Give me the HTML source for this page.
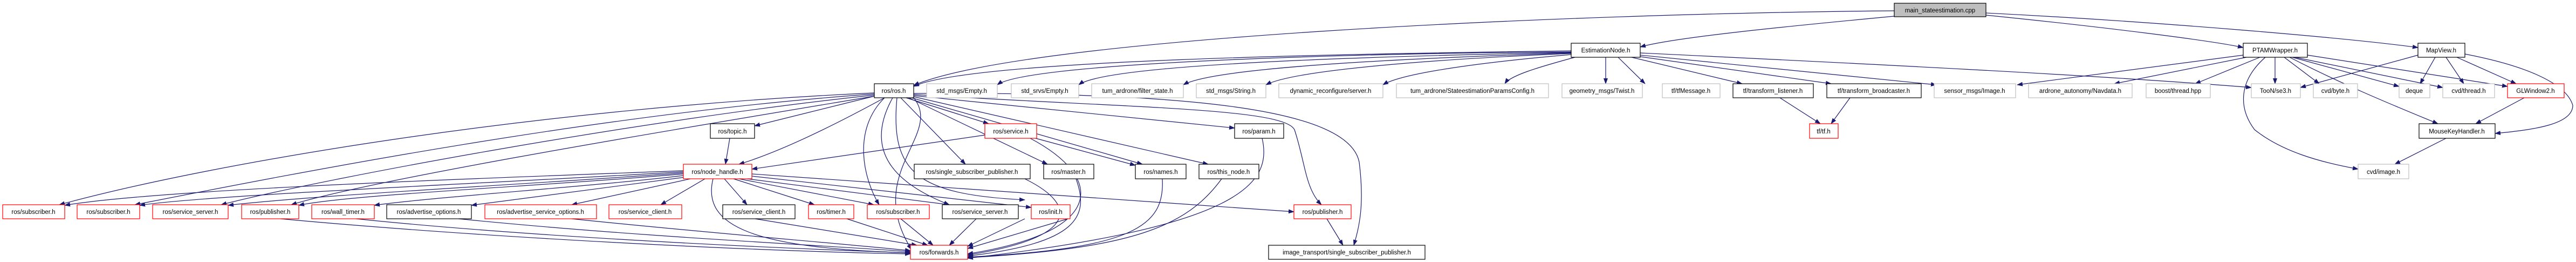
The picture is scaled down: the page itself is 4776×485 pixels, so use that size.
<!DOCTYPE html>
<html><head><meta charset="utf-8"><style>
html,body{margin:0;padding:0;background:#fff;width:4776px;height:485px;overflow:hidden}
svg text{font-family:"Liberation Sans",sans-serif;font-size:11.5px;fill:#000;text-anchor:middle}
.e{fill:none;stroke:#191970;stroke-width:1.2}
.k{fill:#fff;stroke:#000;stroke-width:1.2}
.g{fill:#fff;stroke:#bfbfbf;stroke-width:1.2}
.r{fill:#fff;stroke:#ff0000;stroke-width:1.2}
</style></head><body>
<svg width="4776" height="485" viewBox="0 0 4776 485" xmlns="http://www.w3.org/2000/svg">
<defs><marker id="a" markerUnits="userSpaceOnUse" markerWidth="11" markerHeight="8" refX="10" refY="4" orient="auto"><path d="M0,0 L11,4 L0,8 z" fill="#191970"/></marker></defs>
<g class="e" marker-end="url(#a)">
<!-- main -->
<path d="M3512,20 C2900,25 1900,70 1694,158"/>
<path d="M3512,30 C3300,50 3100,70 3041,87"/>
<path d="M3682,28 C3900,50 4100,75 4159,88"/>
<path d="M3682,24 C4000,40 4350,70 4483,88"/>
<!-- EstimationNode -->
<path d="M2913,94 C2500,100 1800,110 1694,160"/>
<path d="M2913,96 C2400,100 1900,120 1849,157"/>
<path d="M2913,97 C2500,105 2050,120 2000,157"/>
<path d="M2913,98 C2600,108 2250,125 2194,157"/>
<path d="M2913,99 C2650,110 2400,130 2347,157"/>
<path d="M2913,101 C2750,115 2600,135 2564,157"/>
<path d="M2920,106 C2850,125 2800,140 2790,155"/>
<path d="M2977,106 L2977,155"/>
<path d="M3000,106 L3050,155"/>
<path d="M3025,106 L3230,155"/>
<path d="M3035,104 L3395,155"/>
<path d="M3041,102 L3590,157"/>
<path d="M3041,98 C3500,120 3900,140 4174,162"/>
<!-- PTAM -->
<path d="M4159,102 L3740,157"/>
<path d="M4165,106 L3920,155"/>
<path d="M4190,106 L4070,155"/>
<path d="M4218,106 L4218,155"/>
<path d="M4235,106 L4300,155"/>
<path d="M4250,106 L4448,160"/>
<path d="M4255,106 L4529,162"/>
<path d="M4278,102 L4649,160"/>
<path d="M4245,106 C4350,160 4450,200 4520,229"/>
<path d="M4200,106 C4150,150 4150,200 4180,240 C4230,280 4300,300 4372,313"/>
<!-- MapView -->
<path d="M4483,102 L4265,162"/>
<path d="M4515,106 L4487,155"/>
<path d="M4535,106 L4568,155"/>
<path d="M4555,106 L4665,155"/>
<path d="M4570,100 C4700,125 4760,160 4770,195 C4770,230 4700,240 4626,247"/>
<path d="M4680,181 L4590,229"/>
<path d="M4535,256 L4440,304"/>
<!-- tf -->
<path d="M3300,181 L3375,229"/>
<path d="M3430,181 L3395,229"/>
<!-- ros.h -->
<path d="M1621,172 C1000,200 400,300 110,379"/>
<path d="M1621,174 C1100,210 500,330 250,379"/>
<path d="M1621,176 C1200,220 600,330 410,379"/>
<path d="M1621,178 C1250,240 700,330 540,379"/>
<path d="M1621,178 L1399,233"/>
<path d="M1640,181 C1550,230 1450,280 1370,304"/>
<path d="M1640,181 C1580,240 1600,330 1630,379"/>
<path d="M1655,181 C1600,280 1660,340 1760,379"/>
<path d="M1663,181 C1650,320 1700,360 1900,370"/>
<path d="M1670,181 L1790,304"/>
<path d="M1680,181 L1833,229"/>
<path d="M1685,181 L1942,304"/>
<path d="M1690,181 L2118,304"/>
<path d="M1694,179 L2240,304"/>
<path d="M1694,177 L2289,237"/>
<path d="M1694,175 C2100,200 2380,200 2400,240 C2420,300 2420,350 2450,379"/>
<path d="M1694,173 C2200,170 2500,200 2520,300 C2530,380 2520,420 2510,454"/>
<path d="M1694,181 C1750,250 1600,320 1690,462"/>
<!-- topic/service -->
<path d="M1353,256 L1345,304"/>
<path d="M1826,250 L1394,313"/>
<path d="M1920,256 L2105,306"/>
<path d="M1910,256 C2050,330 2050,430 1794,470"/>
<!-- node_handle -->
<path d="M1267,316 C900,330 300,350 120,380"/>
<path d="M1267,318 C900,340 400,360 259,380"/>
<path d="M1267,320 C1000,340 600,360 423,380"/>
<path d="M1267,322 C1000,345 650,360 554,380"/>
<path d="M1267,325 C1100,345 800,365 694,380"/>
<path d="M1270,328 L874,380"/>
<path d="M1280,331 L1060,379"/>
<path d="M1307,331 L1225,379"/>
<path d="M1343,331 L1385,379"/>
<path d="M1360,331 L1510,379"/>
<path d="M1370,331 L1620,379"/>
<path d="M1385,331 L1760,379"/>
<path d="M1394,326 L1912,384"/>
<path d="M1394,322 L2399,392"/>
<path d="M1322,331 C1300,420 1400,460 1688,468"/>
<!-- bottom row to forwards -->
<path d="M520,405 C900,440 1400,465 1688,470"/>
<path d="M660,405 C1000,440 1450,460 1688,468"/>
<path d="M850,405 C1200,440 1550,455 1688,466"/>
<path d="M1060,405 C1300,430 1550,450 1688,464"/>
<path d="M1400,405 L1700,454"/>
<path d="M1570,405 L1720,454"/>
<path d="M1670,405 L1730,454"/>
<path d="M1810,405 L1760,454"/>
<path d="M1900,405 L1794,456"/>
<path d="M1980,405 L1794,460"/>
<path d="M1900,331 C2000,380 2000,440 1794,472"/>
<path d="M1995,331 C2020,400 2000,450 1794,474"/>
<path d="M2155,331 C2160,420 2100,460 1794,476"/>
<path d="M2265,331 C2200,420 2100,460 1794,477"/>
<path d="M2340,256 C2360,340 2300,420 1794,478"/>
<path d="M2460,405 L2490,454"/>
</g>
<g>
<rect class="k" x="3512" y="6" width="170" height="25" style="fill:#bfbfbf"/><text x="3597" y="23">main_stateestimation.cpp</text>
<rect class="k" x="2913" y="80" width="128" height="26"/><text x="2977" y="97">EstimationNode.h</text>
<rect class="k" x="4159" y="80" width="119" height="26"/><text x="4218" y="97">PTAMWrapper.h</text>
<rect class="k" x="4483" y="80" width="87" height="26"/><text x="4526" y="97">MapView.h</text>

<rect class="k" x="1621" y="155" width="73" height="26"/><text x="1657" y="172">ros/ros.h</text>
<rect class="g" x="1718" y="155" width="131" height="26"/><text x="1783" y="172">std_msgs/Empty.h</text>
<rect class="g" x="1875" y="155" width="125" height="26"/><text x="1937" y="172">std_srvs/Empty.h</text>
<rect class="g" x="2024" y="155" width="170" height="26"/><text x="2109" y="172">tum_ardrone/filter_state.h</text>
<rect class="g" x="2218" y="155" width="129" height="26"/><text x="2282" y="172">std_msgs/String.h</text>
<rect class="g" x="2371" y="155" width="193" height="26"/><text x="2467" y="172">dynamic_reconfigure/server.h</text>
<rect class="g" x="2589" y="155" width="282" height="26"/><text x="2730" y="172">tum_ardrone/StateestimationParamsConfig.h</text>
<rect class="g" x="2896" y="155" width="149" height="26"/><text x="2970" y="172">geometry_msgs/Twist.h</text>
<rect class="g" x="3082" y="155" width="107" height="26"/><text x="3135" y="172">tf/tfMessage.h</text>
<rect class="k" x="3213" y="155" width="149" height="26"/><text x="3287" y="172">tf/transform_listener.h</text>
<rect class="k" x="3387" y="155" width="175" height="26"/><text x="3474" y="172">tf/transform_broadcaster.h</text>
<rect class="g" x="3586" y="155" width="151" height="26"/><text x="3661" y="172">sensor_msgs/Image.h</text>
<rect class="g" x="3761" y="155" width="192" height="26"/><text x="3857" y="172">ardrone_autonomy/Navdata.h</text>
<rect class="g" x="3979" y="155" width="119" height="26"/><text x="4038" y="172">boost/thread.hpp</text>
<rect class="g" x="4174" y="155" width="91" height="26"/><text x="4219" y="172">TooN/se3.h</text>
<rect class="g" x="4289" y="155" width="82" height="26"/><text x="4330" y="172">cvd/byte.h</text>
<rect class="g" x="4448" y="155" width="57" height="26"/><text x="4476" y="172">deque</text>
<rect class="g" x="4529" y="155" width="96" height="26"/><text x="4577" y="172">cvd/thread.h</text>
<rect class="r" x="4649" y="155" width="105" height="26"/><text x="4701" y="172">GLWindow2.h</text>

<rect class="k" x="1317" y="229" width="82" height="27"/><text x="1358" y="247">ros/topic.h</text>
<rect class="r" x="1826" y="229" width="96" height="27"/><text x="1874" y="247">ros/service.h</text>
<rect class="k" x="2289" y="229" width="91" height="27"/><text x="2334" y="247">ros/param.h</text>
<rect class="r" x="3355" y="229" width="53" height="27"/><text x="3381" y="247">tf/tf.h</text>
<rect class="k" x="4485" y="229" width="141" height="27"/><text x="4555" y="247">MouseKeyHandler.h</text>

<rect class="r" x="1267" y="304" width="127" height="27"/><text x="1330" y="322">ros/node_handle.h</text>
<rect class="k" x="1695" y="304" width="215" height="27"/><text x="1802" y="322">ros/single_subscriber_publisher.h</text>
<rect class="k" x="1935" y="304" width="93" height="27"/><text x="1981" y="322">ros/master.h</text>
<rect class="k" x="2105" y="304" width="94" height="27"/><text x="2152" y="322">ros/names.h</text>
<rect class="k" x="2223" y="304" width="111" height="27"/><text x="2278" y="322">ros/this_node.h</text>
<rect class="g" x="4372" y="304" width="94" height="27"/><text x="4419" y="322">cvd/image.h</text>

<rect class="r" x="5" y="379" width="115" height="26"/><text x="62" y="396">ros/subscriber.h</text>
<rect class="r" x="143" y="379" width="116" height="26"/><text x="201" y="396">ros/subscriber.h</text>
<rect class="r" x="283" y="379" width="140" height="26"/><text x="353" y="396">ros/service_server.h</text>
<rect class="r" x="448" y="379" width="106" height="26"/><text x="501" y="396">ros/publisher.h</text>
<rect class="r" x="578" y="379" width="116" height="26"/><text x="636" y="396">ros/wall_timer.h</text>
<rect class="k" x="717" y="379" width="157" height="26"/><text x="795" y="396">ros/advertise_options.h</text>
<rect class="r" x="899" y="379" width="207" height="26"/><text x="1002" y="396">ros/advertise_service_options.h</text>
<rect class="r" x="1129" y="379" width="135" height="26"/><text x="1196" y="396">ros/service_client.h</text>
<rect class="k" x="1340" y="379" width="134" height="26"/><text x="1407" y="396">ros/service_client.h</text>
<rect class="r" x="1499" y="379" width="84" height="26"/><text x="1541" y="396">ros/timer.h</text>
<rect class="r" x="1608" y="379" width="115" height="26"/><text x="1665" y="396">ros/subscriber.h</text>
<rect class="k" x="1747" y="379" width="141" height="26"/><text x="1817" y="396">ros/service_server.h</text>
<rect class="r" x="1912" y="379" width="72" height="26"/><text x="1948" y="396">ros/init.h</text>
<rect class="r" x="2399" y="379" width="106" height="26"/><text x="2452" y="396">ros/publisher.h</text>

<rect class="r" x="1688" y="454" width="106" height="26"/><text x="1741" y="471">ros/forwards.h</text>
<rect class="k" x="2352" y="454" width="290" height="26"/><text x="2497" y="471">image_transport/single_subscriber_publisher.h</text>
</g>
</svg>
</body></html>
